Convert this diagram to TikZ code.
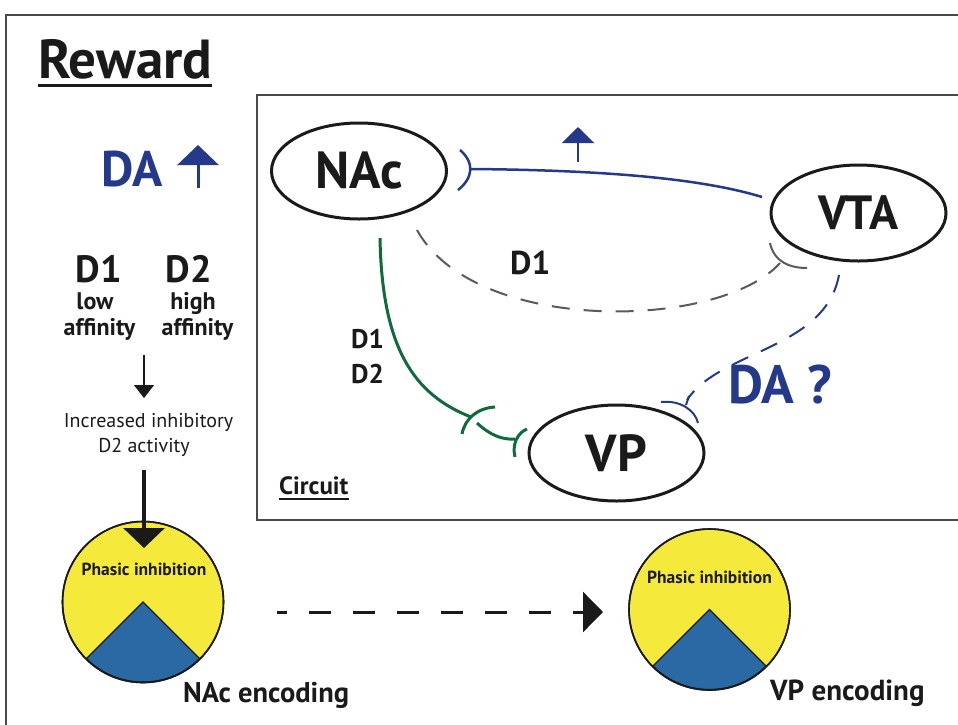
\documentclass[tikz,border=0pt]{standalone}
\usepackage{fontspec}
\setmainfont{PT Sans}
\usetikzlibrary{shapes.geometric,arrows.meta}
\newcommand\txtsize[1]{\fontsize{#1}{#1}\selectfont}
\definecolor{ink}{HTML}{1A1A1A}
\definecolor{dablue}{HTML}{24398A}
\definecolor{gpath}{HTML}{0F6B3B}
\definecolor{dgrey}{HTML}{5A5A5A}
\definecolor{framegrey}{HTML}{4A4A4A}
\definecolor{codeyellow}{HTML}{F5E93C}
\definecolor{codeblue}{HTML}{2A69A4}
\begin{document}
\begin{tikzpicture}[x=1pt,y=-1pt,
  txt/.style={inner sep=0pt, text=ink},
  region/.style={draw=ink, line width=3pt, ellipse, minimum width=175pt,
    minimum height=96pt, inner sep=0pt, text=ink, font=\bfseries\txtsize{52}},
  codecircle/.style={draw=ink, line width=1.6pt, fill=codeyellow, circle,
    minimum size=161pt, inner sep=0pt},
  wedge/.style={fill=codeblue, draw=ink, line width=1.2pt},
  bluelink/.style={draw=dablue, line width=2.5pt},
  bluedash/.style={draw=dablue, line width=2pt, dash pattern=on 18pt off 14pt},
  greydash/.style={draw=dgrey, line width=2pt, dash pattern=on 18pt off 14pt},
  greenlink/.style={draw=gpath, line width=3pt},
  upmark/.style={-{Triangle[width=32pt,length=16pt]}, dablue, line width=2.5pt},
]
\useasboundingbox (0,0) rectangle (958,724);

% frames
\draw[framegrey, line width=2pt] (6,15) rectangle (990,750);
\draw[framegrey, line width=1.5pt] (257,95) rectangle (990,520);

% title
\node[txt, anchor=base west, font=\bfseries\txtsize{55}] (title) at (38,78) {Reward};
\draw[ink, line width=3pt] ([yshift=-7pt]title.base west) -- ([yshift=-7pt]title.base east);

\node[txt, anchor=base west, font=\bfseries\txtsize{25}] (circuit) at (279,494) {Circuit};
\draw[ink, line width=2pt] ([yshift=-5pt]circuit.base west) -- ([yshift=-5pt]circuit.base east);

% left column
\node[txt, text=dablue, anchor=base west, font=\bfseries\txtsize{50}] (daleft) at (101,186) {DA};
\coordinate (daup0) at (198,188);
\coordinate (daup1) at (198,145);
\draw[-{Triangle[width=41pt,length=20pt]}, dablue, line width=3pt] (daup0) -- (daup1);

\node[txt, anchor=base, font=\bfseries\txtsize{38}] (dOne) at (98.5,282) {D1};
\node[txt, anchor=base, font=\bfseries\txtsize{38}] (dTwo) at (189,282) {D2};
\node[txt, anchor=base, font=\bfseries\txtsize{24}] (low) at (95,309) {low};
\node[txt, anchor=base, font=\bfseries\txtsize{24}] (affA) at (99.5,335) {affinity};
\node[txt, anchor=base, font=\bfseries\txtsize{24}] (high) at (193,309) {high};
\node[txt, anchor=base, font=\bfseries\txtsize{24}] (affB) at (197.5,335) {affinity};

\coordinate (smallA) at (144,355);
\coordinate (smallB) at (144,398);
\draw[-{Triangle[width=20pt,length=13pt]}, ink, line width=1.5pt] (smallA) -- (smallB);

\node[txt, anchor=base, font=\txtsize{20}] (incr) at (148.5,427) {Increased inhibitory};
\node[txt, anchor=base, font=\txtsize{20}] (dact) at (144,452) {D2 activity};

% encoding circles
\node[codecircle] (nacc) at (143,602) {};
\fill[wedge] (nacc.center) -- ++(-45:80pt) arc[start angle=-45, end angle=-135, radius=80pt] -- cycle;
\draw[ink, line width=1.6pt] (nacc.center) circle[radius=80.5pt];
\node[txt, anchor=base, font=\bfseries\txtsize{17.5}] (phA) at (144,575) {Phasic inhibition};

\node[codecircle] (vpc) at (709.5,609.5) {};
\fill[wedge] (vpc.center) -- ++(-45:80pt) arc[start angle=-45, end angle=-135, radius=80pt] -- cycle;
\draw[ink, line width=1.6pt] (vpc.center) circle[radius=80.5pt];
\node[txt, anchor=base, font=\bfseries\txtsize{17.5}] (phB) at (709.5,583) {Phasic inhibition};

\node[txt, anchor=base west, font=\bfseries\txtsize{28.5}] (nacenc) at (183,702) {NAc encoding};
\node[txt, anchor=base west, font=\bfseries\txtsize{29}] (vpenc) at (770,700) {VP encoding};

\coordinate (bigA) at (144,470);
\coordinate (bigB) at (144,548);
\draw[-{Triangle[width=41pt,length=20pt]}, ink, line width=3.5pt] (bigA) -- (bigB);

\coordinate (flowA) at (277,612);
\coordinate (flowB) at (603,612);
\draw[-{Triangle[width=40pt,length=20pt]}, ink, line width=3pt,
  dash pattern=on 22pt off 22pt, dash phase=12pt] (flowA) -- (flowB);

% circuit regions
\node[region] (NAc) at (359,171) {NAc};
\node[region, font=\bfseries\txtsize{48}] (VTA) at (858.5,213) {VTA};
\node[region] (VP) at (616.5,453) {VP};

% VTA -> NAc (solid, inhibitory ending)
\coordinate (nacbar) at (470,169);
\coordinate (vtaout) at (762,197);
\draw[bluelink] (nacbar) .. controls (600,170) and (700,178) .. (vtaout);
\draw[bluelink] (460,150) .. controls (475,163) and (473,178) .. (458,190);
\coordinate (upA) at (578,162);
\coordinate (upB) at (578,127);
\draw[upmark] (upA) -- (upB);

% NAc -> VTA (D1, dashed)
\coordinate (nacD) at (417,230);
\coordinate (vtabar) at (780,263);
\draw[greydash] (nacD) .. controls (475,335) and (720,330) .. (vtabar);
\draw[dgrey, line width=2pt] (770,243) .. controls (774,262) and (790,268) .. (807,268);
\node[txt, anchor=base west, font=\bfseries\txtsize{33}] (dmid) at (510,274) {D1};

% VTA -> VP (dashed, DA ?)
\coordinate (vtaD) at (839,275);
\coordinate (vpbar) at (687,400);
\draw[bluedash] (vtaD) .. controls (825,350) and (720,350) .. (vpbar);
\draw[dablue, line width=2pt] (689,396) -- (686,405);
\draw[dablue, line width=2pt] (661,402) .. controls (680,400) and (695,410) .. (698,423);
\node[txt, text=dablue, anchor=base west, font=\bfseries\txtsize{54}] (daq) at (728,403) {DA ?};

% NAc -> VP (D1/D2, green)
\coordinate (nacG) at (380,238);
\coordinate (gbarA) at (471,417);
\draw[greenlink] (nacG) .. controls (382,350) and (415,395) .. (gbarA);
\draw[greenlink] (462,434) .. controls (465,418) and (478,408) .. (495,407);
\coordinate (gB0) at (477,423);
\coordinate (gB1) at (515,439);
\draw[greenlink] (gB0) .. controls (490,435) and (502,440) .. (gB1);
\draw[greenlink] (527,429) .. controls (517,433) and (512,445) .. (515,457);
\node[txt, anchor=base west, font=\bfseries\txtsize{27}] (gOne) at (351,348) {D1};
\node[txt, anchor=base west, font=\bfseries\txtsize{27}] (gTwo) at (351,383) {D2};
\end{tikzpicture}
\end{document}
